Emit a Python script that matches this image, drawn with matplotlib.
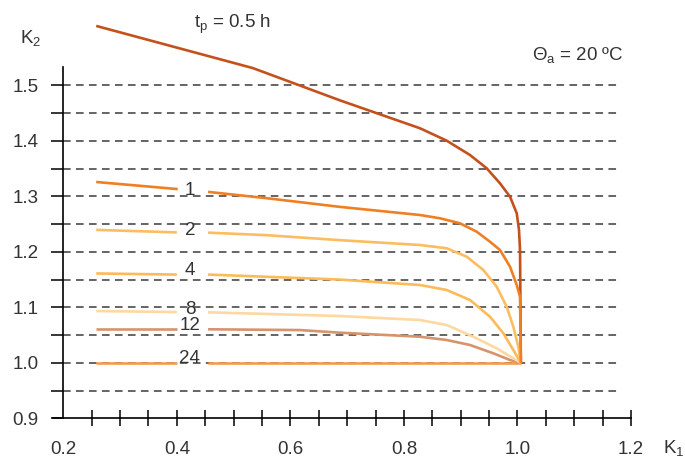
import numpy as np
import matplotlib.pyplot as plt

# curves: K1 (x) vs K2 (y), label gap between 0.40 and 0.455
k1_05 = [0.258, 0.534, 0.687, 0.8283, 0.8754, 0.9164, 0.9458, 0.9692, 0.9869, 0.9987, 1.0027, 1.0045, 1.006]
k2_05 = [1.607, 1.531, 1.473, 1.4226, 1.4002, 1.3744, 1.3505, 1.3234, 1.2993, 1.2694, 1.2393, 1.2033, 1.000]

k1_1 = [0.258, 0.4015, 0.455, 0.560, 0.687, 0.8283, 0.8635, 0.8987, 0.9282, 0.9516, 0.9692, 0.9869, 0.9987, 1.0045, 1.006]
k2_1 = [1.3258, 1.313, 1.308, 1.2964, 1.281, 1.2663, 1.2604, 1.2514, 1.2362, 1.2182, 1.2033, 1.1732, 1.1402, 1.119, 1.000]

k1_2 = [0.258, 0.400, 0.455, 0.558, 0.687, 0.8283, 0.8754, 0.9106, 0.9399, 0.9634, 0.9810, 0.9927, 1.0015, 1.006]
k2_2 = [1.2395, 1.235, 1.2345, 1.230, 1.221, 1.2123, 1.2063, 1.1912, 1.1672, 1.1371, 1.1011, 1.0650, 1.029, 1.000]

k1_4 = [0.258, 0.400, 0.455, 0.687, 0.8283, 0.8754, 0.9164, 0.9516, 0.9751, 0.9927, 1.006]
k2_4 = [1.161, 1.159, 1.159, 1.150, 1.1402, 1.1312, 1.1132, 1.0831, 1.0532, 1.0231, 1.000]

k1_8 = [0.258, 0.400, 0.455, 0.687, 0.8283, 0.8754, 0.9222, 0.9634, 0.9927, 1.006]
k2_8 = [1.0933, 1.0915, 1.091, 1.0843, 1.0771, 1.0681, 1.047, 1.0261, 1.0081, 1.000]

k1_12 = [0.258, 0.400, 0.455, 0.617, 0.687, 0.8283, 0.8754, 0.9164, 0.9575, 0.9869, 1.006]
k2_12 = [1.061, 1.061, 1.0604, 1.059, 1.0543, 1.047, 1.0411, 1.0321, 1.0171, 1.005, 1.000]

k1_24 = [0.258, 0.400, 0.455, 1.006]
k2_24 = [1.000, 1.000, 1.000, 1.000]

curve_labels = ['1', '2', '4', '8', '12', '24']
label_y = [1.310, 1.238, 1.167, 1.096, 1.068, 1.008]

grid_levels = [0.95, 1.0, 1.05, 1.1, 1.15, 1.2, 1.25, 1.3, 1.35, 1.4, 1.45, 1.5]
x_labels = [0.2, 0.4, 0.6, 0.8, 1.0, 1.2]
y_labels = [0.9, 1.0, 1.1, 1.2, 1.3, 1.4, 1.5]

plt.rcParams['font.family'] = ['Liberation Sans', 'DejaVu Sans']
plt.rcParams['mathtext.default'] = 'regular'
text_color = '#333333'
fs = 13.5

fig = plt.figure(figsize=(6.85, 4.58), dpi=100)
ax = fig.add_axes([0, 0, 1, 1])
ax.set_xlim(0.0885, 1.2951)
ax.set_ylim(0.8285, 1.6537)
ax.patch.set_visible(False)

for s in ['top', 'right']:
    ax.spines[s].set_visible(False)
ax.spines['left'].set_position(('data', 0.2))
ax.spines['left'].set_bounds(0.9, 1.533)
ax.spines['bottom'].set_position(('data', 0.9))
ax.spines['bottom'].set_bounds(0.181, 1.2)
for s in ['left', 'bottom']:
    ax.spines[s].set_linewidth(1.2)

# x ticks: labels on majors, cross ticks on minors
ax.xaxis.remove_overlapping_locs = False
ax.set_xticks(x_labels)
ax.set_xticklabels(['%.1f' % v for v in x_labels])
ax.set_xticks(np.arange(0.25, 1.201, 0.05), minor=True)
ax.tick_params(axis='x', which='major', length=0, pad=16, labelsize=fs, labelcolor=text_color)
ax.tick_params(axis='x', which='minor', direction='inout', length=12, width=1.1)

ax.set_yticks(y_labels)
ax.set_yticklabels(['%.1f' % v for v in y_labels])
ax.set_yticks(grid_levels, minor=True)
ax.tick_params(axis='y', which='both', direction='out', length=9, width=1.1)
ax.tick_params(axis='y', which='major', pad=9, labelsize=fs, labelcolor=text_color)

ax.hlines(grid_levels, 0.2, 1.181, colors='#3a3a3a', linewidth=1.1,
          linestyles=(0, (5, 3.5)), zorder=1)


def draw(xs, ys, color, gap=True):
    xs = np.array(xs)
    ys = np.array(ys)
    if gap:
        left = xs <= 0.402
        ax.plot(xs[left], ys[left], color=color, lw=1.9, zorder=3, solid_capstyle='butt')
        ax.plot(xs[~left], ys[~left], color=color, lw=1.9, zorder=3, solid_capstyle='butt')
    else:
        ax.plot(xs, ys, color=color, lw=1.9, zorder=3, solid_capstyle='butt')


draw(k1_05, k2_05, '#c4511b', gap=False)
draw(k1_24, k2_24, '#f59c4c')
draw(k1_12, k2_12, '#d6936c')
draw(k1_8, k2_8, '#fdd8a0')
draw(k1_4, k2_4, '#fcba58')
draw(k1_2, k2_2, '#fcbc60')
draw(k1_1, k2_1, '#f07f22')

for lab, yv in zip(curve_labels, label_y):
    ax.text(0.423, yv, lab, ha='center', va='center', fontsize=fs, color=text_color, zorder=4)

ax.text(0.4977, 1.609, 't$_\\mathregular{p}$ = 0.5 h', ha='center', va='center',
        fontsize=fs, color=text_color)
ax.text(0.1237, 1.585, 'K$_\\mathregular{2}$', ha='left', va='center',
        fontsize=fs, color=text_color)
ax.text(1.025, 1.5546, 'Θ$_\\mathregular{a}$ = 20 ºC', ha='left', va='center',
        fontsize=fs, color=text_color)
ax.text(1.256, 0.8465, 'K$_\\mathregular{1}$', ha='left', va='center',
        fontsize=fs, color=text_color)

fig.savefig('out.png', dpi=100)
